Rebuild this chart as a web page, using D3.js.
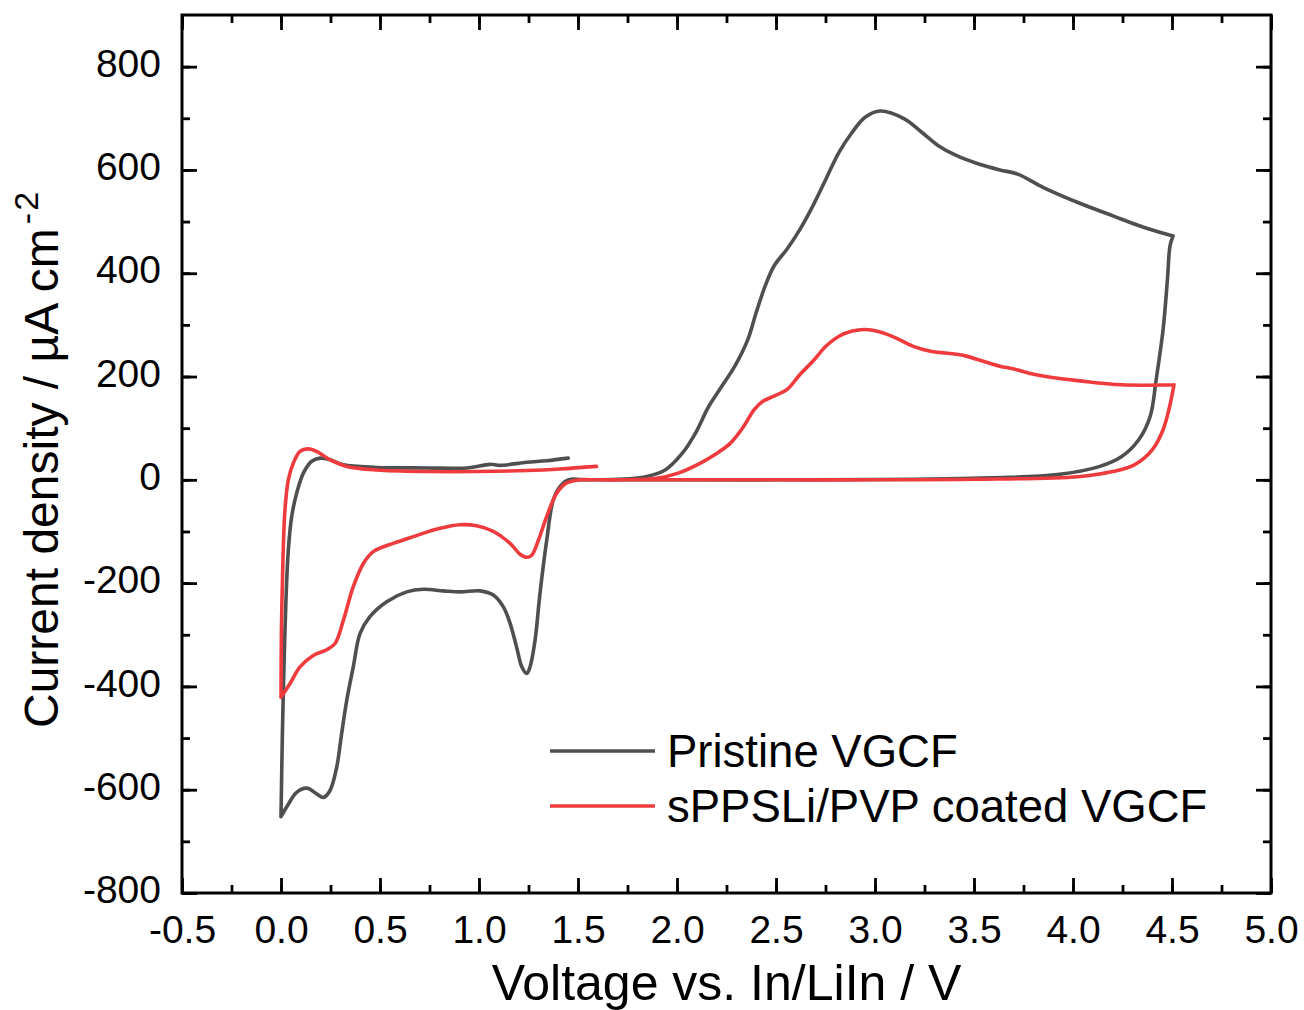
<!DOCTYPE html>
<html>
<head>
<meta charset="utf-8">
<script src="https://cdn.jsdelivr.net/npm/d3@7"></script>
<style>
  html, body { margin: 0; padding: 0; background: #ffffff; }
  svg { display: block; }
  text { font-family: "Liberation Sans", Arial, sans-serif; fill: #000; }
</style>
</head>
<body>
<svg id="chart" width="1304" height="1010"></svg>
<script>
// ---- Data (voltage V, current density µA cm^-2) ----
const seriesNames = ["Pristine VGCF", "sPPSLi/PVP coated VGCF"];
const seriesColors = ["#4f4f4f", "#ef3b3d"];

const pristineV = [1.45, 1.6, 2.0, 2.5, 3.0, 3.59, 3.92, 4.136, 4.246, 4.333, 4.39, 4.42, 4.455, 4.477, 4.49, 4.505,
  4.356, 4.202, 4.025, 3.851, 3.72, 3.631, 3.52, 3.41, 3.32, 3.236, 3.148, 3.027, 2.95, 2.885, 2.818, 2.753, 2.687, 2.621,
  2.556, 2.49, 2.445, 2.40, 2.358, 2.292, 2.226, 2.16, 2.094, 2.028, 1.94, 1.83, 1.7, 1.55, 1.451,
  1.409, 1.375, 1.342, 1.308, 1.283, 1.258, 1.241, 1.216, 1.19, 1.157, 1.123, 1.072, 1.005, 0.904, 0.82, 0.719, 0.635,
  0.534, 0.449, 0.399, 0.365, 0.332, 0.306, 0.281, 0.247, 0.214, 0.18, 0.13, 0.079, 0.037, 0.0,
  0.007, 0.015, 0.025, 0.037, 0.054, 0.079, 0.113, 0.155, 0.197, 0.247, 0.315, 0.483, 0.736, 0.938, 1.056, 1.106,
  1.241, 1.342, 1.451];
const pristineI = [0, 0, 0, 0, 0.5, 4, 10, 26, 45, 78, 123, 194, 291, 388, 453, 472,
  489, 511, 537, 566, 592, 600, 612, 628, 647, 673, 699, 714, 702, 673, 634, 583, 531, 485,
  447, 414, 375, 324, 272, 220, 181, 142, 91, 52, 19, 5, 1, 0, 0,
  -13, -39, -117, -220, -311, -362, -375, -362, -324, -278, -246, -223, -215, -217, -215, -212, -217,
  -236, -265, -298, -362, -427, -492, -557, -602, -615, -608, -597, -605, -628, -652,
  -492, -362, -233, -136, -71, -26, 13, 36, 42, 39, 29, 24, 23, 23, 30, 28,
  34, 37, 42];

const coatedV = [1.51, 1.6, 2.0, 2.5, 3.0, 3.5, 4.025, 4.2, 4.31, 4.40, 4.455, 4.488, 4.51,
  4.246, 4.027, 3.894, 3.807, 3.697, 3.631, 3.543, 3.456, 3.368, 3.28, 3.19, 3.104, 3.017, 2.95, 2.885, 2.818,
  2.753, 2.687, 2.621, 2.556, 2.49, 2.434, 2.39, 2.336, 2.27, 2.204, 2.116, 2.006, 1.896, 1.74, 1.6, 1.51,
  1.443, 1.392, 1.342, 1.3, 1.266, 1.241, 1.207, 1.157, 1.072, 0.988, 0.904, 0.803, 0.668, 0.567, 0.466, 0.416,
  0.365, 0.315, 0.273, 0.231, 0.163, 0.096, 0.045, 0.0,
  0.002, 0.009, 0.02, 0.037, 0.062, 0.096, 0.138, 0.18, 0.247, 0.332, 0.483, 0.736, 0.988, 1.241, 1.409, 1.594];
const coatedI = [0, 0, 0, 0, 0, 1, 6, 16, 29, 58, 97, 142, 184,
  184, 192, 198, 204, 215, 220, 230, 240, 245, 249, 259, 275, 287, 291, 288, 278,
  259, 230, 204, 175, 162, 152, 136, 103, 71, 52, 32, 13, 3, 0, 0, 0,
  -6, -26, -71, -117, -146, -150, -144, -123, -100, -89, -87, -94, -110, -123, -139, -162,
  -207, -272, -317, -329, -340, -362, -395, -421,
  -298, -168, -58, 0, 32, 55, 60, 55, 39, 26, 19, 16, 16, 18, 21, 26];

const xTicks = [-0.5, 0.0, 0.5, 1.0, 1.5, 2.0, 2.5, 3.0, 3.5, 4.0, 4.5, 5.0];
const yTicks = [-800, -600, -400, -200, 0, 200, 400, 600, 800];
const xTitle = "Voltage vs. In/LiIn / V";
const yTitleMain = "Current density / µA cm";
const yTitleSup = "-2";

// ---- Layout ----
const svg = d3.select("#chart");
const L = 182, R = 1271, T = 15, B = 893;
const x = d3.scaleLinear().domain([-0.5, 5.0]).range([L, R]);
const y = d3.scaleLinear().domain([-800, 900]).range([B, T]);

const xMinor = d3.range(-0.5, 5.0001, 0.25);
const yMinor = d3.range(-800, 900, 100);

function styleAxis(g) {
  g.select(".domain").remove();
  g.selectAll(".tick line").attr("stroke", "#000").attr("stroke-width", 2.8);
}
const MAJ = 15, MIN = 8;

// minor ticks
svg.append("g").attr("transform", `translate(0,${B})`)
  .call(d3.axisBottom(x).tickValues(xMinor).tickSize(-MIN).tickFormat(""))
  .call(styleAxis);
svg.append("g").attr("transform", `translate(0,${T})`)
  .call(d3.axisTop(x).tickValues(xMinor).tickSize(-MIN).tickFormat(""))
  .call(styleAxis);
svg.append("g").attr("transform", `translate(${L},0)`)
  .call(d3.axisLeft(y).tickValues(yMinor).tickSize(-MIN).tickFormat(""))
  .call(styleAxis);
svg.append("g").attr("transform", `translate(${R},0)`)
  .call(d3.axisRight(y).tickValues(yMinor).tickSize(-MIN).tickFormat(""))
  .call(styleAxis);

// major ticks
const gxb = svg.append("g").attr("transform", `translate(0,${B})`)
  .call(d3.axisBottom(x).tickValues(xTicks).tickSize(-MAJ).tickPadding(0).tickFormat(d3.format(".1f")))
  .call(styleAxis);
gxb.selectAll(".tick text").attr("font-size", 39).attr("y", 50).attr("dy", 0)
  .attr("font-family", "Liberation Sans, Arial, sans-serif").text(d => d3.format(".1f")(d).replace("−", "-"));
svg.append("g").attr("transform", `translate(0,${T})`)
  .call(d3.axisTop(x).tickValues(xTicks).tickSize(-MAJ).tickFormat(""))
  .call(styleAxis);
const gyl = svg.append("g").attr("transform", `translate(${L},0)`)
  .call(d3.axisLeft(y).tickValues(yTicks).tickSize(-MAJ).tickFormat(d3.format("d")))
  .call(styleAxis);
gyl.selectAll(".tick text").attr("font-size", 39).attr("x", -21).attr("dy", "0.25em")
  .attr("font-family", "Liberation Sans, Arial, sans-serif").text(d => String(d));
svg.append("g").attr("transform", `translate(${R},0)`)
  .call(d3.axisRight(y).tickValues(yTicks).tickSize(-MAJ).tickFormat(""))
  .call(styleAxis);

// frame
svg.append("rect").attr("x", L).attr("y", T).attr("width", R - L).attr("height", B - T)
  .attr("fill", "none").attr("stroke", "#000").attr("stroke-width", 3);

// curves: split each sweep at voltage turning points so the vertices stay sharp
function splitSweeps(pts) {
  const segs = [];
  let cur = [pts[0]];
  for (let i = 1; i < pts.length; i++) {
    cur.push(pts[i]);
    if (i < pts.length - 1) {
      const d1 = pts[i][0] - pts[i - 1][0], d2 = pts[i + 1][0] - pts[i][0];
      if (d1 * d2 < 0) { segs.push(cur); cur = [pts[i]]; }
    }
  }
  segs.push(cur);
  return segs;
}
const line = d3.line().x(d => x(d[0])).y(d => y(d[1])).curve(d3.curveCatmullRom.alpha(0.5));
const series = [
  { name: seriesNames[0], color: seriesColors[0], pts: pristineV.map((v, i) => [v, pristineI[i]]) },
  { name: seriesNames[1], color: seriesColors[1], pts: coatedV.map((v, i) => [v, coatedI[i]]) }
];
series.forEach(s => {
  const d = splitSweeps(s.pts).map(seg => line(seg)).join("");
  svg.append("path").attr("d", d)
    .attr("fill", "none").attr("stroke", s.color).attr("stroke-width", 3.6)
    .attr("stroke-linejoin", "round").attr("stroke-linecap", "round");
});

// legend
const legY = [751, 806];
series.forEach((s, i) => {
  svg.append("line").attr("x1", 550).attr("x2", 655).attr("y1", legY[i]).attr("y2", legY[i])
    .attr("stroke", s.color).attr("stroke-width", 3.6);
  svg.append("text").attr("x", 667).attr("y", legY[i] + 16).attr("font-size", 45.5).text(s.name);
});

// axis titles
svg.append("text").attr("x", (L + R) / 2).attr("y", 1000).attr("text-anchor", "middle")
  .attr("font-size", 50).text(xTitle);
const yt = svg.append("text").attr("transform", "translate(58,728) rotate(-90)")
  .attr("font-size", 48);
yt.append("tspan").text(yTitleMain);
yt.append("tspan").attr("font-size", 34).attr("dx", 4).attr("dy", -20)
  .attr("letter-spacing", 2).text(yTitleSup);
</script>
</body>
</html>
